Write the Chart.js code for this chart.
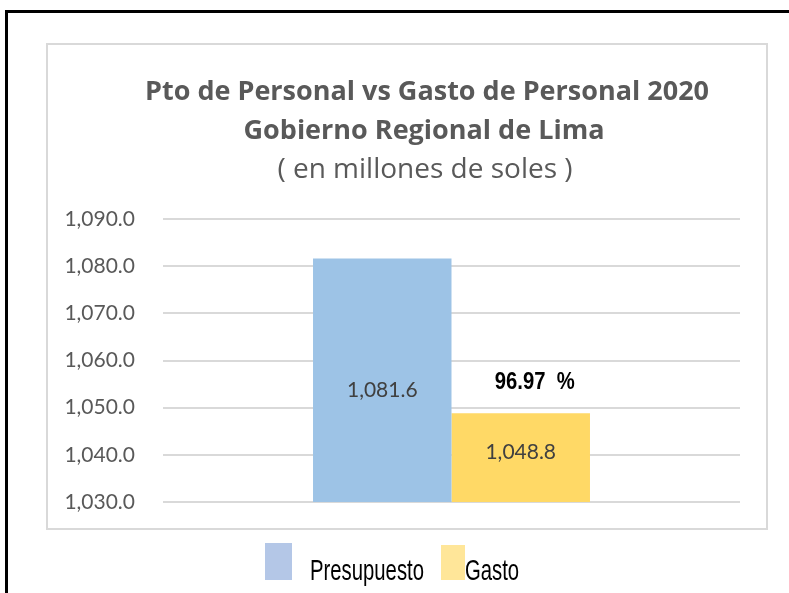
<!DOCTYPE html>
<html>
<head>
<meta charset="utf-8">
<script src="https://cdn.jsdelivr.net/npm/chart.js@4.4.0/dist/chart.umd.min.js"></script>
<style>
  html, body { margin: 0; padding: 0; background: #fff; }
  #wrap { width: 789px; height: 593px; position: relative; }
</style>
</head>
<body>
<div id="wrap"><canvas id="grafico" width="789" height="593"></canvas></div>
<script>
// datos del grafico
let categorias = ['2020'];
let series = ['Presupuesto', 'Gasto'];
let presupuesto = [1081.6];
let gasto = [1048.8];
let yTicks = [1030, 1040, 1050, 1060, 1070, 1080, 1090];
let titulo = ['Pto de Personal vs Gasto de Personal 2020', 'Gobierno Regional de Lima'];
let subtitulo = '( en millones de soles )';

let coloresBarra = ['#9DC3E6', '#FFD966'];
let coloresLeyenda = ['#B4C7E7', '#FFE699'];

// 1081.6 -> "1,081.6"
let fmt = (v, d) => {
  let s = Number(v).toFixed(d);
  let partes = s.split('.');
  partes[0] = partes[0].replace(/\B(?=(\d{3})+(?!\d))/g, ',');
  return partes.join('.');
};

// marcos, titulo, etiquetas y leyenda
const marcos = {
  id: 'marcos',
  beforeDraw(chart) {
    const ctx = chart.ctx;
    ctx.save();
    ctx.fillStyle = '#fff';
    ctx.fillRect(0, 0, chart.width, chart.height);
    ctx.fillStyle = '#000';
    ctx.fillRect(5, 10, 784, 3);
    ctx.fillRect(5, 10, 3, 583);
    ctx.strokeStyle = '#D9D9D9';
    ctx.lineWidth = 2;
    ctx.strokeRect(47, 44, 720, 485);

    // titulo
    ctx.fillStyle = '#595959';
    ctx.textAlign = 'center';
    ctx.textBaseline = 'middle';
    ctx.font = 'bold 27px "Open Sans"';
    ctx.fillText(titulo[0], 427, 92);
    ctx.fillText(titulo[1], 424, 131);
    ctx.font = '28px "Open Sans"';
    ctx.fillText(subtitulo, 425, 170);
    ctx.restore();
  },
  afterDatasetsDraw(chart) {
    const ctx = chart.ctx;
    const yScale = chart.scales.y;
    ctx.save();
    ctx.textAlign = 'center';
    ctx.textBaseline = 'middle';
    ctx.font = '21px Lato';
    ctx.fillStyle = '#404040';
    const ajuste = [10, -5];
    chart.data.datasets.forEach((ds, i) => {
      const bar = chart.getDatasetMeta(i).data[0];
      const arriba = yScale.getPixelForValue(ds.data[0]);
      const abajo = yScale.getPixelForValue(yScale.min);
      ctx.fillText(fmt(ds.data[0], 1), bar.x, (arriba + abajo) / 2 + ajuste[i]);
    });

    // porcentaje de ejecucion
    const pct = gasto[0] / presupuesto[0] * 100;
    const barG = chart.getDatasetMeta(1).data[0];
    const topG = yScale.getPixelForValue(gasto[0]);
    ctx.font = 'bold 23px "Liberation Sans"';
    ctx.fillStyle = '#000';
    ctx.save();
    ctx.translate(barG.x + 14, topG - 31);
    ctx.scale(0.88, 1);
    ctx.fillText(pct.toFixed(2) + '  %', 0, 0);
    ctx.restore();

    // leyenda
    const cajas = [[265, 543, 27, 37], [441, 545, 24, 35]];
    const textosX = [310, 465];
    ctx.textAlign = 'left';
    ctx.textBaseline = 'alphabetic';
    ctx.font = '29px "Liberation Sans"';
    series.forEach((s, i) => {
      ctx.fillStyle = coloresLeyenda[i];
      ctx.fillRect(...cajas[i]);
      ctx.fillStyle = '#000';
      ctx.save();
      ctx.translate(textosX[i], 580);
      ctx.scale(0.7, 1);
      ctx.fillText(s, 0, 0);
      ctx.restore();
    });
    ctx.restore();
  }
};

document.addEventListener('DOMContentLoaded', function () {
  new Chart(document.getElementById('grafico'), {
    type: 'bar',
    data: {
      labels: categorias,
      datasets: [
        { label: series[0], data: presupuesto, backgroundColor: coloresBarra[0] },
        { label: series[1], data: gasto, backgroundColor: coloresBarra[1] }
      ]
    },
    options: {
      responsive: false,
      animation: false,
      layout: { padding: { left: 55, right: 49, top: 219, bottom: 0 } },
      datasets: { bar: { categoryPercentage: 0.48, barPercentage: 1 } },
      plugins: {
        legend: { display: false },
        tooltip: { enabled: false },
        title: { display: false }
      },
      scales: {
        x: {
          grid: { display: false },
          border: { display: false },
          ticks: { display: false },
          afterFit: s => { s.height = 91; }
        },
        y: {
          min: yTicks[0],
          max: yTicks[yTicks.length - 1],
          border: { display: false },
          grid: { color: '#D9D9D9', lineWidth: 2, drawTicks: false },
          ticks: {
            stepSize: yTicks[1] - yTicks[0],
            padding: 28,
            color: '#595959',
            font: { family: 'Lato', size: 21 },
            callback: v => fmt(v, 1)
          },
          afterFit: s => { s.width = 108; }
        }
      }
    },
    plugins: [marcos]
  });
});
</script>
</body>
</html>
